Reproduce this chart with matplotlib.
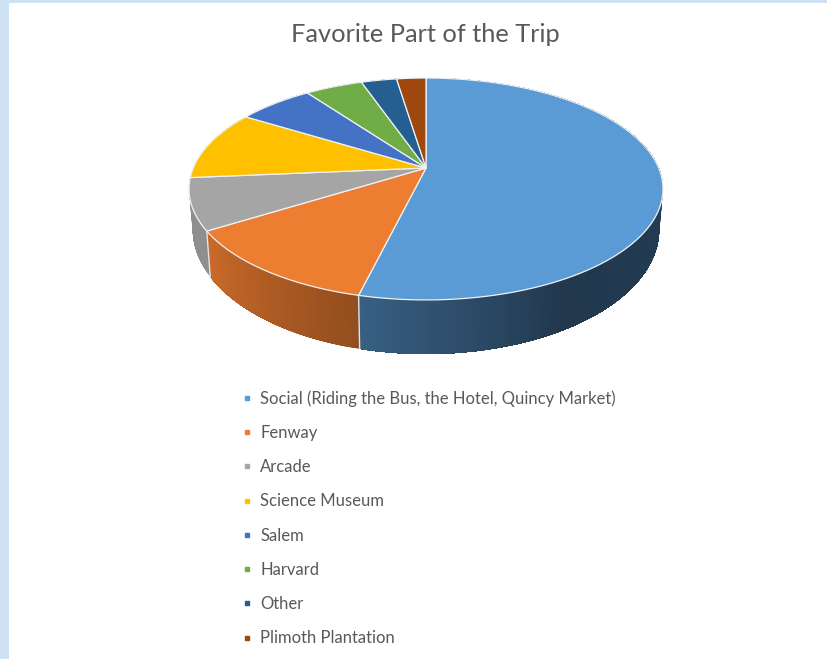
import numpy as np
import matplotlib
matplotlib.use("Agg")
import matplotlib.pyplot as plt
from matplotlib.lines import Line2D
from matplotlib.patches import Rectangle

title = "Favorite Part of the Trip"
labels = ["Social (Riding the Bus, the Hotel, Quincy Market)", "Fenway", "Arcade",
          "Science Museum", "Salem", "Harvard", "Other", "Plimoth Plantation"]
values = [53.8, 12.3, 7.5, 10.2, 6.2, 4.7, 2.9, 2.4]
colors = ["#5b9bd5", "#ed7d31", "#a5a5a5", "#ffc000", "#4472c4", "#70ad47", "#255e91", "#9e480e"]

# everything is laid out in image pixels
W, H = 827, 659
fig = plt.figure(figsize=(W / 100, H / 100), dpi=100, facecolor="white")
ax = fig.add_axes([0, 0, 1, 1])
ax.set_xlim(0, W)
ax.set_ylim(H, 0)
ax.axis("off")

# the light blue window border
ax.add_patch(Rectangle((0, 0), 9, H, color="#cfe2f3", lw=0))
ax.add_patch(Rectangle((0, 0), W, 2.5, color="#cfe2f3", lw=0))

K = 0.189  # perspective strength


def project(theta, cx, cy, sx, sy):
    # theta in degrees, clockwise from 12 o'clock, on a unit circle seen from above
    t = np.radians(theta)
    u, v = np.sin(t), np.cos(t)
    w = 1 + K * v
    return cx + sx * u / w, cy - sy * v / w


def top(theta):
    return project(theta, 426, 168, 232.7, 107)


def bottom(theta):
    return project(theta, 426, 206, 229, 120)


def shade(hex_color, theta):
    f = np.interp(theta, [90, 150, 194, 240, 270], [0.40, 0.36, 0.62, 0.87, 0.85])
    return tuple(c * f for c in matplotlib.colors.to_rgb(hex_color))


edges = np.concatenate([[0], np.cumsum(values)]) / np.sum(values) * 360

# side wall first, the top face covers what is hidden
# each strip runs on to the end of its slice so no seams show between strips
for i, col in enumerate(colors):
    steps = np.arange(edges[i], edges[i + 1], 1.0)
    for a in steps:
        th = np.linspace(a, edges[i + 1], 60)
        xt, yt = top(th)
        xb, yb = bottom(th[::-1])
        ax.fill(np.r_[xt, xb], np.r_[yt, yb], color=shade(col, a + 0.5), lw=0)

for e in edges:
    if 90 < e < 260:
        xt, yt = top(e)
        xb, yb = bottom(e)
        ax.plot([xt, xb], [yt, yb], color="#e4e4e4", lw=1)

for i, col in enumerate(colors):
    th = np.linspace(edges[i], edges[i + 1], 120)
    x, y = top(th)
    ax.fill(np.r_[426, x], np.r_[168, y], facecolor=col, edgecolor="#eef2f5", lw=0.9, joinstyle="round")

ax.text(425.5, 35, title, ha="center", va="center", color="#595959", fontsize=18.3, family="Lato")

handles = [Line2D([], [], ls="", marker="s", ms=3.4, color=c) for c in colors]
ax.legend(handles, labels, loc="upper left", bbox_to_anchor=(238.5 / W, 1 - 390 / H),
          bbox_transform=ax.transAxes, frameon=False, handlelength=1.0, handletextpad=0.3,
          labelspacing=1.096, borderpad=0, borderaxespad=0,
          labelcolor="#595959", prop={"family": "Lato", "size": 12})

fig.savefig("out.png", dpi=100)
